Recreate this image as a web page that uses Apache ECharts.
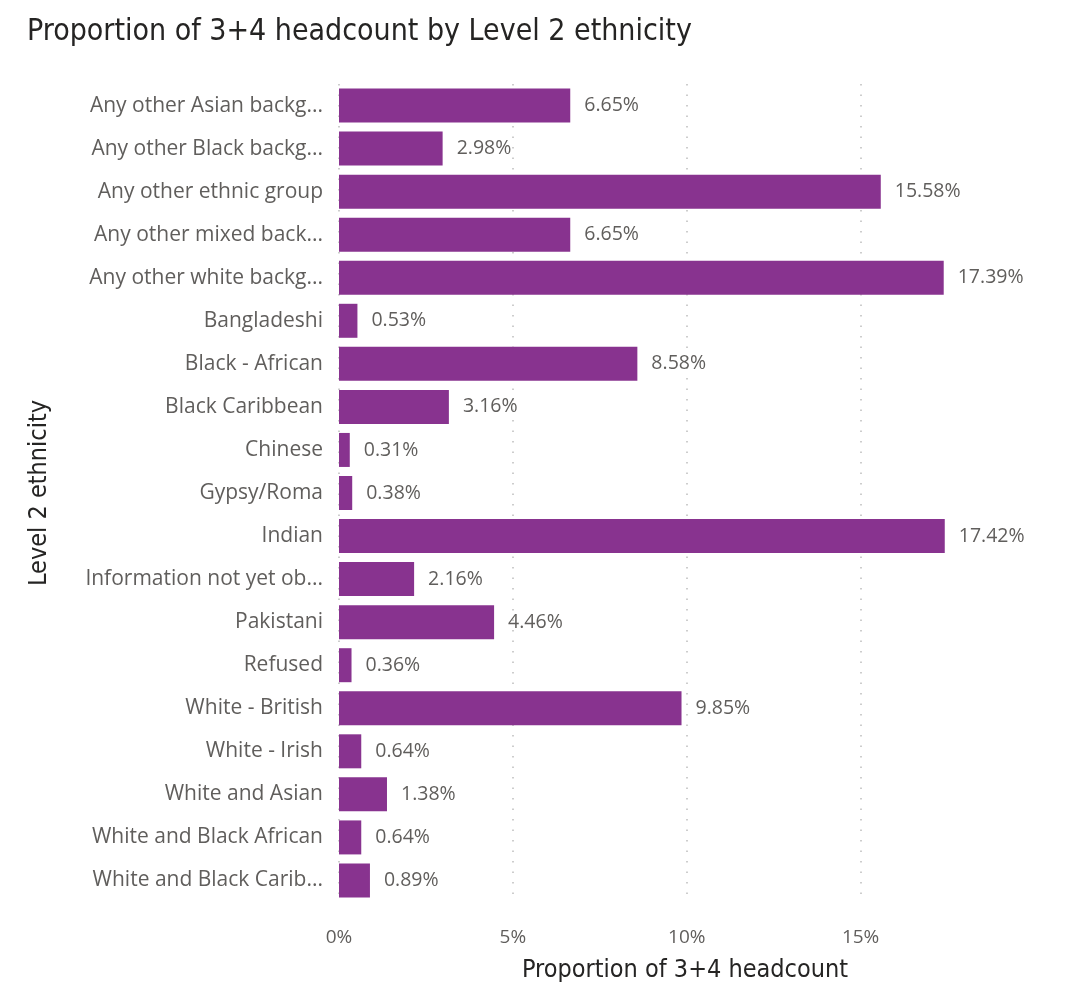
<!DOCTYPE html>
<html><head><meta charset="utf-8">
<script src="https://cdn.jsdelivr.net/npm/echarts@6/dist/echarts.min.js"></script>
<style>html,body{margin:0;padding:0;background:#fff}#c{width:1080px;height:988px}</style>
</head><body><div id="c"></div>
<script>
const categories = ["Any other Asian backg...","Any other Black backg...","Any other ethnic group","Any other mixed back...","Any other white backg...","Bangladeshi","Black - African","Black Caribbean","Chinese","Gypsy/Roma","Indian","Information not yet ob...","Pakistani","Refused","White - British","White - Irish","White and Asian","White and Black African","White and Black Carib..."];
const values = [6.65,2.98,15.58,6.65,17.39,0.53,8.58,3.16,0.31,0.38,17.42,2.16,4.46,0.36,9.85,0.64,1.38,0.64,0.89];
const xTicks = [0,5,10,15];

const chart = echarts.init(document.getElementById('c'));
chart.setOption({
  animation:false,
  title:{text:"Proportion of 3+4 headcount by Level 2 ethnicity",left:22,top:12,
    textStyle:{fontFamily:"DejaVu Sans Condensed, DejaVu Sans",fontSize:30,fontWeight:'normal',color:'#252423'}},
  grid:{left:339,top:84,height:854,width:692},
  xAxis:{type:'value',min:0,max:19.9,interval:5,
    name:"Proportion of 3+4 headcount",nameLocation:'middle',nameGap:56,
    nameTextStyle:{fontFamily:"DejaVu Sans Condensed, DejaVu Sans",fontSize:25,color:'#252423'},
    axisLine:{show:false},axisTick:{show:false},
    axisLabel:{margin:26,fontFamily:"Open Sans",fontSize:19,color:'#605E5C',showMaxLabel:false,
      formatter:v=>xTicks.includes(v)?v+'%':''},
    splitLine:{show:true,showMaxLine:false,lineStyle:{type:[1.5,9],color:'#bdbdbd',width:1.5}}},
  yAxis:{type:'category',data:categories,inverse:true,
    name:"Level 2 ethnicity",nameLocation:'middle',nameGap:287,nameRotate:90,
    nameTextStyle:{fontFamily:"DejaVu Sans Condensed, DejaVu Sans",fontSize:25,color:'#252423'},
    axisLine:{show:false},axisTick:{show:false},
    axisLabel:{margin:16,fontFamily:"Open Sans",fontSize:21,color:'#605E5C'}},
  series:[{type:'bar',data:values,barWidth:34,
    itemStyle:{color:'#88338F'},
    label:{show:true,position:'right',distance:14,fontFamily:"Open Sans",fontSize:19.5,color:'#605E5C',
      formatter:p=>p.value.toFixed(2)+'%'}}]
});
</script></body></html>
